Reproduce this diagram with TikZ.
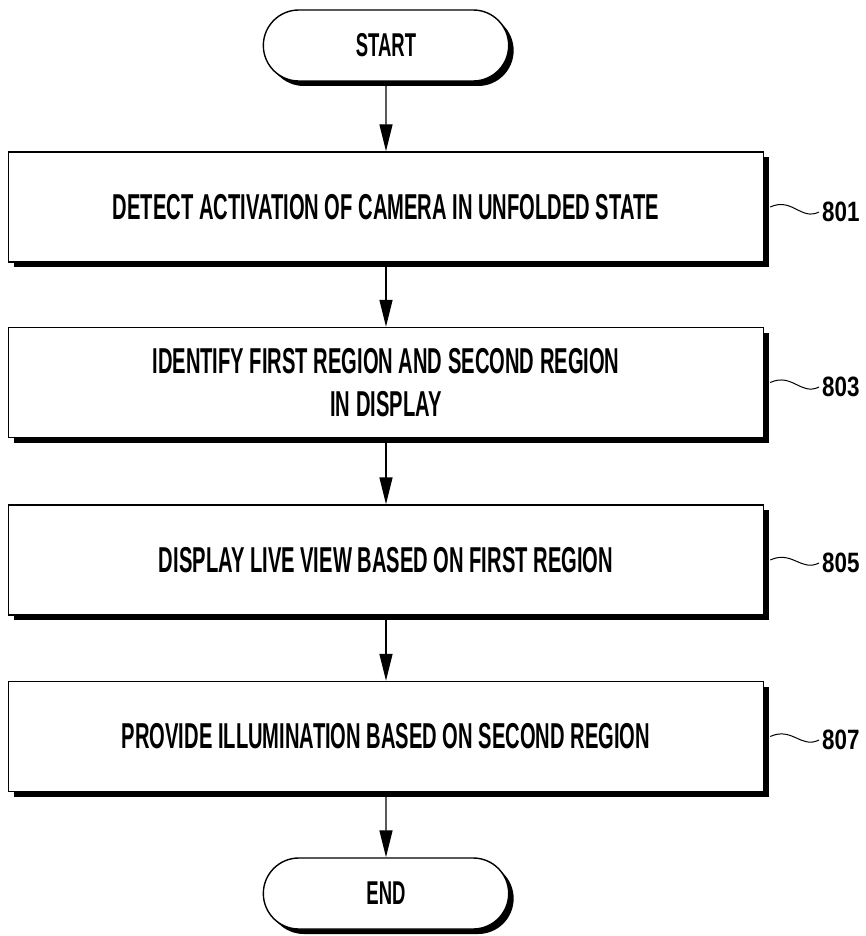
\documentclass[tikz,border=0pt]{standalone}
\usepackage{fontspec}
\setmainfont{Liberation Sans}[FakeStretch=0.56]
\newfontfamily\numfont{Liberation Sans}[FakeStretch=0.8]
\usepackage{tikz}
\usetikzlibrary{arrows.meta, shapes.misc, shadows}

\begin{document}
\begin{tikzpicture}[x=1pt, y=-1pt,
        box/.style={draw, line width=1.4pt, fill=white, minimum width=755pt, minimum height=110pt,
          align=center, font=\fontsize{36}{43}\selectfont\bfseries,
          drop shadow={shadow xshift=5pt, shadow yshift=-5pt, opacity=1, fill=black}},
        term/.style={rounded rectangle, draw, line width=1.4pt, fill=white, minimum width=252pt,
          minimum height=71pt, font=\fontsize{33}{38}\selectfont\bfseries,
          drop shadow={shadow xshift=5pt, shadow yshift=-5pt, opacity=1, fill=black}},
        num/.style={anchor=west, inner sep=0pt, font=\fontsize{28}{30}\numfont\bfseries},
        flow/.style={line width=1.4pt, -{Triangle[length=27pt, width=13pt]}},
        wave/.style={line width=1pt}]
        \useasboundingbox (0,0) rectangle (866,936);

        % flow chart 8
        \node[term] (s) at (386, 45.5) {START};
        \node[box] (b1) at (386, 207) {DETECT ACTIVATION OF CAMERA IN UNFOLDED STATE};
        \node[box] (b2) at (386, 382.5) {IDENTIFY FIRST REGION AND SECOND REGION\\IN DISPLAY};
        \node[box] (b3) at (386, 560) {DISPLAY LIVE VIEW BASED ON FIRST REGION};
        \node[box] (b4) at (386, 736.5) {PROVIDE ILLUMINATION BASED ON SECOND REGION};
        \node[term] (e) at (386, 893.5) {END};

        \node[num] (l801) at (822, 212) {801};
        \node[num] (l803) at (822, 387) {803};
        \node[num] (l805) at (822, 563) {805};
        \node[num] (l807) at (822, 740) {807};

        \draw[flow] (s) -- (b1);
        \draw[flow] (b1) -- (b2);
        \draw[flow] (b2) -- (b3);
        \draw[flow] (b3) -- (b4);
        \draw[flow] (b4) -- (e);

        \draw[wave] ([xshift=6pt]b1.east) .. controls +(22,-10) and +(-18,9) .. ([xshift=-3pt]l801.west);
        \draw[wave] ([xshift=6pt]b2.east) .. controls +(22,-10) and +(-18,9) .. ([xshift=-3pt]l803.west);
        \draw[wave] ([xshift=6pt]b3.east) .. controls +(22,-10) and +(-18,9) .. ([xshift=-3pt]l805.west);
        \draw[wave] ([xshift=6pt]b4.east) .. controls +(22,-10) and +(-18,9) .. ([xshift=-3pt]l807.west);

\end{tikzpicture}
\end{document}
